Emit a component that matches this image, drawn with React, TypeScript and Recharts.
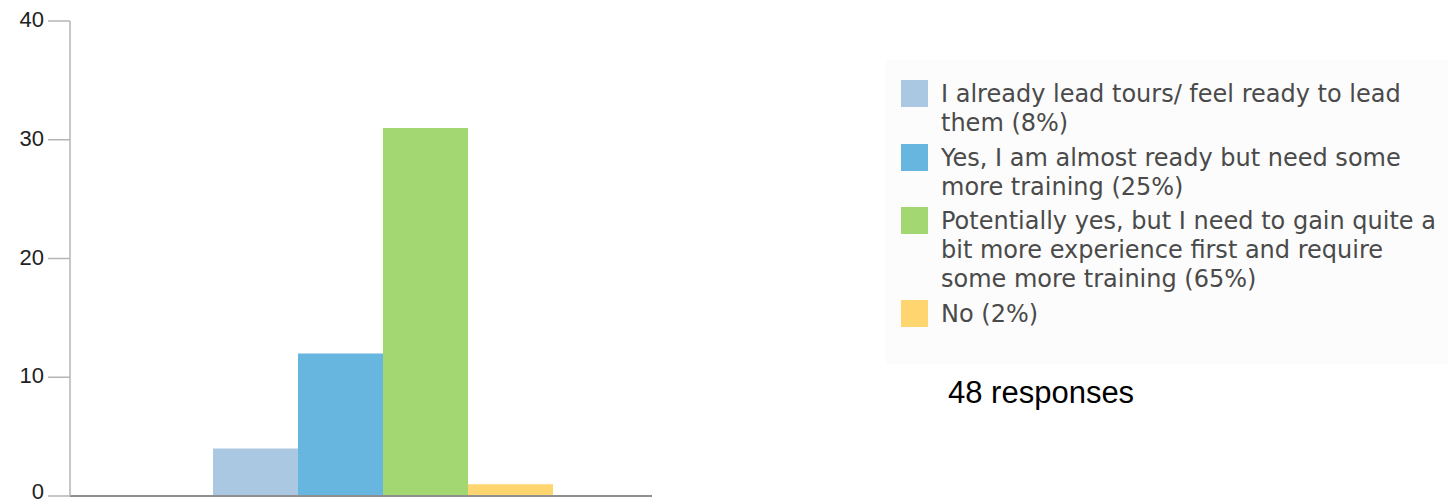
import React from "react";
import { BarChart, Bar, XAxis, YAxis } from "recharts";

const categories = ["Responses"];
const seriesKeys = ["s0", "s1", "s2", "s3"];
const seriesNames = [
  "I already lead tours/ feel ready to lead them (8%)",
  "Yes, I am almost ready but need some more training (25%)",
  "Potentially yes, but I need to gain quite a bit more experience first and require some more training (65%)",
  "No (2%)",
];
const seriesValues = [4, 12, 31, 1];
const seriesColors = ["#abc8e2", "#66b6e0", "#a2d772", "#fed56f"];
const legendLines = [
  ["I already lead tours/ feel ready to lead", "them (8%)"],
  ["Yes, I am almost ready but need some", "more training (25%)"],
  ["Potentially yes, but I need to gain quite a", "bit more experience first and require", "some more training (65%)"],
  ["No (2%)"],
];
const yTicks = [0, 10, 20, 30, 40];
const responsesLabel = "48 responses";

const data = categories.map((name) => {
  const row: Record<string, string | number> = { name };
  seriesKeys.forEach((k, i) => {
    row[k] = seriesValues[i];
  });
  return row;
});

function YTick(props: any) {
  const { x, y, payload } = props;
  const nearBottom = y > 485;
  return (
    <text
      x={x}
      y={y}
      dy={nearBottom ? 2.5 : 6}
      textAnchor="end"
      fill="#222"
      fontSize={22}
      fontFamily="Liberation Sans, Arial, sans-serif"
    >
      {payload.value}
    </text>
  );
}

export default function App() {
  return (
    <div style={{ position: "absolute", left: 0, top: 0, width: 1448, height: 504, background: "#fff", overflow: "hidden" }}>
      <div
        style={{
          position: "absolute",
          left: 886,
          top: 60,
          width: 562,
          height: 304,
          background: "#fcfcfc",
        }}
      />
      <div style={{ position: "absolute", left: 0, top: 0 }}>
        <BarChart
          width={1448}
          height={504}
          data={data}
          margin={{ top: 21, right: 796, bottom: 0, left: 0 }}
          barCategoryGap={0}
          barGap={0}
        >
          <XAxis
            dataKey="name"
            height={8}
            tick={false}
            tickLine={false}
            axisLine={{ stroke: "#8f8f8f", strokeWidth: 2 }}
            padding={{ left: 143, right: 101 }}
          />
          <YAxis
            width={70}
            domain={[0, 40]}
            ticks={yTicks}
            interval={0}
            tickSize={22}
            tickMargin={4}
            axisLine={{ stroke: "#b5b5b5", strokeWidth: 1.5 }}
            tickLine={{ stroke: "#b5b5b5", strokeWidth: 1.5 }}
            tick={<YTick />}
          />
          {seriesKeys.map((k, i) => (
            <Bar key={k} dataKey={k} name={seriesNames[i]} fill={seriesColors[i]} isAnimationActive={false} />
          ))}
        </BarChart>
      </div>
      <div style={{ position: "absolute", left: 901, top: 80 }}>
        {legendLines.map((lines, i) => (
          <div key={i} style={{ display: "flex", alignItems: "flex-start", marginBottom: 5.5 }}>
            <div style={{ width: 27, height: 27, marginTop: 0, background: seriesColors[i], flex: "none" }} />
            <div
              style={{
                marginLeft: 13,
                fontFamily: "DejaVu Sans, Verdana, sans-serif",
                fontSize: 24,
                lineHeight: "29px",
                color: "#4a4a4a",
                whiteSpace: "nowrap",
              }}
            >
              {lines.map((l, j) => (
                <div key={j}>{l}</div>
              ))}
            </div>
          </div>
        ))}
      </div>
      <div
        style={{
          position: "absolute",
          left: 948,
          top: 377,
          fontFamily: "Liberation Sans, Arial, sans-serif",
          fontSize: 31,
          lineHeight: "31px",
          color: "#000",
          whiteSpace: "nowrap",
        }}
      >
        {responsesLabel}
      </div>
    </div>
  );
}
